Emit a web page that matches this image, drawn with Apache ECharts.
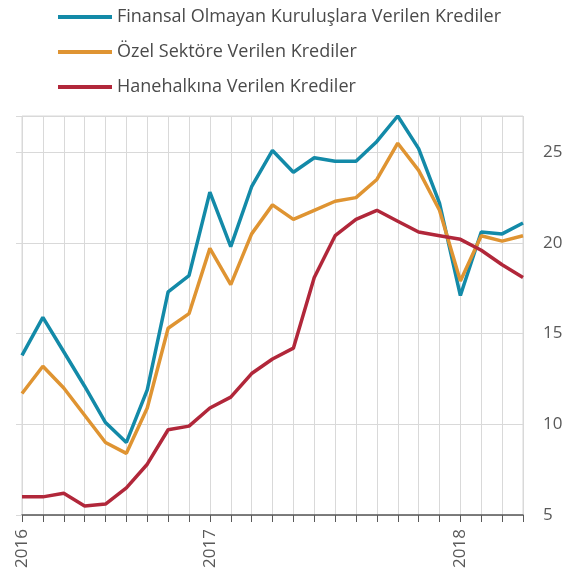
<!DOCTYPE html>
<html><head><meta charset="utf-8">
<script src="https://cdn.jsdelivr.net/npm/echarts@6/dist/echarts.min.js"></script>
<style>html,body{margin:0;padding:0;background:#fff}#c{width:584px;height:581px}</style>
</head><body><div id="c"></div>
<script>
var months = ['2016-04','2016-05','2016-06','2016-07','2016-08','2016-09','2016-10','2016-11','2016-12',
  '2017-01','2017-02','2017-03','2017-04','2017-05','2017-06','2017-07','2017-08','2017-09','2017-10','2017-11','2017-12',
  '2018-01','2018-02','2018-03','2018-04'];
var finansalOlmayan = [13.8,15.9,14.0,12.1,10.1,9.0,11.9,17.3,18.2,22.8,19.8,23.1,25.1,23.9,24.7,24.5,24.5,25.6,27.0,25.2,22.2,17.1,20.6,20.5,21.1];
var ozelSektor = [11.7,13.2,12.0,10.5,9.0,8.4,10.9,15.3,16.1,19.7,17.7,20.5,22.1,21.3,21.8,22.3,22.5,23.5,25.5,24.0,21.8,17.9,20.4,20.1,20.4];
var hanehalki = [6.0,6.0,6.2,5.5,5.6,6.5,7.8,9.7,9.9,10.9,11.5,12.8,13.6,14.2,18.1,20.4,21.3,21.8,21.2,20.6,20.4,20.2,19.6,18.8,18.1];
var names = ['Finansal Olmayan Kuruluşlara Verilen Krediler','Özel Sektöre Verilen Krediler','Hanehalkına Verilen Krediler'];
var colors = ['#138aa8','#df9432','#b1273a'];
var yTicks = [5,10,15,20,25];

var font = 'Open Sans';
var chart = echarts.init(document.getElementById('c'), null, {renderer:'canvas'});
function mk(i, d){
  return {name:names[i], type:'line', data:d, symbol:'none', smooth:false,
    lineStyle:{color:colors[i], width:3.5}, itemStyle:{color:colors[i]}};
}
chart.setOption({
  animation:false,
  color:colors,
  legend:{orient:'vertical', left:53, top:3, itemWidth:54, itemHeight:4, itemGap:17, icon:'rect',
    textStyle:{fontFamily:font, fontSize:18, color:'#4a4a4a'}, data:names},
  grid:{left:22, right:61, top:116, bottom:66, show:true, borderColor:'#d9d9d9', borderWidth:1},
  xAxis:{type:'category', data:months, boundaryGap:false,
    axisLine:{lineStyle:{color:'#595959', width:1.5}},
    axisTick:{show:true, interval:0, length:7, lineStyle:{color:'#595959'}},
    splitLine:{show:true, interval:0, lineStyle:{color:'#d9d9d9', width:1}},
    axisLabel:{interval:0, rotate:90, margin:14, fontFamily:font, fontSize:17, color:'#595959',
      formatter:function(v, i){ return (i===0 || v.slice(5)==='01') ? v.slice(0,4) : ''; }}
  },
  yAxis:[{type:'value', position:'right', min:5, max:27, interval:5,
    axisLine:{show:false}, axisTick:{show:false},
    splitLine:{show:true, lineStyle:{color:'#d9d9d9', width:1}},
    axisLabel:{margin:20, fontFamily:font, fontSize:17, color:'#595959',
      formatter:function(v){ return yTicks.indexOf(v)>=0 ? String(v) : ''; }}},
    {type:'value', position:'left', min:5, max:27, interval:5,
    axisLine:{show:false}, axisTick:{show:true, length:6, lineStyle:{color:'#d9d9d9'}},
    splitLine:{show:false}, axisLabel:{show:false}}],
  series:[mk(0,finansalOlmayan), mk(1,ozelSektor), mk(2,hanehalki)]
});
</script></body></html>
